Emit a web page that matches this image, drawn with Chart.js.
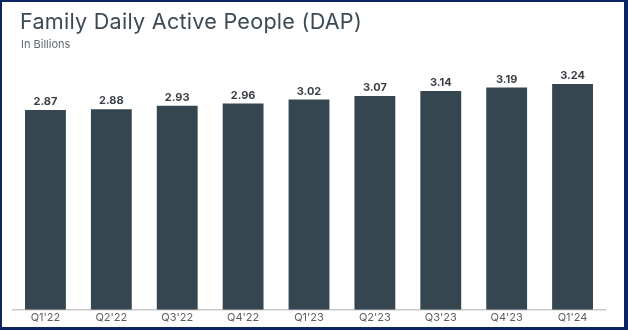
<!DOCTYPE html>
<html>
<head>
<meta charset="utf-8">
<script src="https://cdn.jsdelivr.net/npm/chart.js@4.4.1/dist/chart.umd.min.js"></script>
<style>
  html, body { margin: 0; padding: 0; background: #fff; }
  #wrap { position: relative; width: 628px; height: 330px; overflow: hidden; background: #fff; }
  #chartBox { position: absolute; left: 0; top: 0; width: 628px; height: 330px; }
  #frame { position: absolute; left: 0; top: 0; width: 628px; height: 330px; box-sizing: border-box;
           border-style: solid; border-color: #0b2563; border-width: 2px 4px 3px 2px; pointer-events: none; }
  #title { position: absolute; left: 20px; top: 8px; font-family: Inter, "Open Sans", sans-serif;
           font-size: 21.6px; color: #3d4a54; white-space: nowrap; letter-spacing: 0.25px; }
  #subtitle { position: absolute; left: 21px; top: 37px; font-family: Inter, "Open Sans", sans-serif;
           font-size: 11px; color: #5f6b73; white-space: nowrap; }
</style>
</head>
<body>
<div id="wrap">
  <div id="chartBox"><canvas id="c"></canvas></div>
  <div id="title">Family Daily Active People (DAP)</div>
  <div id="subtitle">In Billions</div>
  <div id="frame"></div>
</div>
<script>
const categories = ["Q1'22", "Q2'22", "Q3'22", "Q4'22", "Q1'23", "Q2'23", "Q3'23", "Q4'23", "Q1'24"];
const dapValues = [2.87, 2.88, 2.93, 2.96, 3.02, 3.07, 3.14, 3.19, 3.24];
const valueLabels = ["2.87", "2.88", "2.93", "2.96", "3.02", "3.07", "3.14", "3.19", "3.24"];

const valueLabelPlugin = {
  id: 'valueLabels',
  afterDatasetsDraw(chart) {
    const ctx = chart.ctx;
    const meta = chart.getDatasetMeta(0);
    ctx.save();
    ctx.font = "bold 11px Inter, 'Open Sans', sans-serif";
    ctx.fillStyle = '#3a3f44';
    ctx.textAlign = 'center';
    ctx.textBaseline = 'middle';
    meta.data.forEach((bar, i) => {
      ctx.fillText(valueLabels[i], bar.x, bar.y - 8);
    });
    ctx.restore();
  }
};

new Chart(document.getElementById('c'), {
  type: 'bar',
  data: {
    labels: categories,
    datasets: [{
      data: dapValues,
      backgroundColor: '#354650',
      borderWidth: 0,
      categoryPercentage: 1.0,
      barPercentage: 0.62
    }]
  },
  options: {
    responsive: true,
    maintainAspectRatio: false,
    animation: false,
    events: [],
    layout: { padding: { left: 12.5, right: 22.5, top: 66, bottom: 5 } },
    plugins: { legend: { display: false }, tooltip: { enabled: false } },
    scales: {
      x: {
        grid: { display: false, drawTicks: false },
        border: { display: true, color: '#c9c9c9', width: 1.5 },
        ticks: { color: '#5a5f63', font: { family: "Inter, 'Open Sans', sans-serif", size: 11 }, padding: 1, maxRotation: 0 }
      },
      y: { display: false, min: 0, max: 3.5 }
    }
  },
  plugins: [valueLabelPlugin]
});
</script>
</body>
</html>
